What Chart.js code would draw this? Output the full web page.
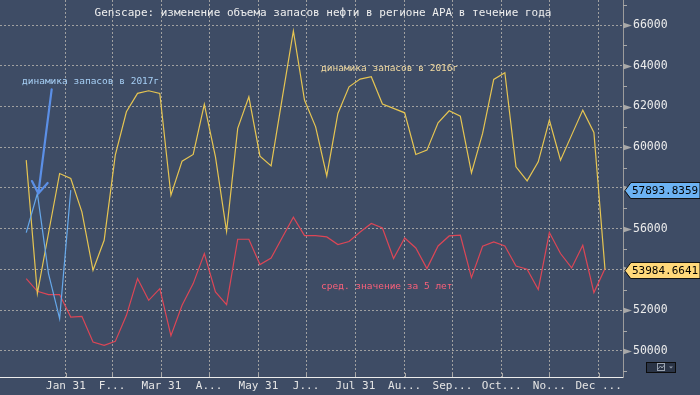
<!DOCTYPE html>
<html>
<head>
<meta charset="utf-8">
<script src="https://cdn.jsdelivr.net/npm/chart.js@4/dist/chart.umd.min.js"></script>
<style>
  html, body { margin: 0; padding: 0; background: #3e4c65; }
  canvas { display: block; }
</style>
</head>
<body>
<canvas id="myChart" width="700" height="395"></canvas>
<script>
"use strict";

// weekly points, day of year
const weekDays = [6, 13, 20, 27, 34, 41, 48, 55, 62, 69, 76, 83, 90, 97, 104, 111, 118, 125, 132, 139,
  146, 153, 160, 167, 174, 181, 188, 195, 202, 209, 216, 223, 230, 237, 244, 251, 258, 265, 272, 279,
  286, 293, 300, 307, 314, 321, 328, 335, 342, 349, 356, 363, 370];

const stocks2016 = [59366, 52816, 55779, 58712, 58467, 56826, 53960, 55435, 59612, 61740,
  62644, 62772, 62644, 57646, 59317, 59646, 62103, 59528, 55877, 60924,
  62477, 59563, 59086, 62413, 65705, 62315, 61002, 58595, 61661, 62968,
  63346, 63459, 62118, 61907, 61690, 59646, 59858, 61199, 61789, 61528,
  58742, 60678, 63332, 63656, 59037, 58349, 59283, 61332, 59366, 60595,
  61823, 60727, 53984.6641];

const avg5y = [53553, 52929, 52767, 52767, 51666, 51700, 50437, 50275, 50471, 51749,
  53553, 52487, 53061, 50753, 52241, 53307, 54782, 52897, 52274, 55484,
  55484, 54241, 54565, 55567, 56565, 55665, 55665, 55597, 55223, 55370,
  55843, 56255, 56039, 54536, 55548, 55057, 54044, 55155, 55646, 55680,
  53602, 55140, 55351, 55155, 54172, 54010, 53012, 55813, 54782, 54074,
  55189, 52865, 54044];

const stocks2017 = [55813, 57730, 53798, 51587, 57893.8359];

const monthEnds = [31, 60, 91, 121, 152, 182, 213, 244, 274, 305, 335, 366];
const monthLabels = ["Jan 31", "F...", "Mar 31", "A...", "May 31", "J...", "Jul 31", "Au...", "Sep...", "Oct...", "No...", "Dec ..."];
const yTicks = [50000, 52000, 54000, 56000, 58000, 60000, 62000, 64000, 66000];

const titleText = "Genscape: изменение объема запасов нефти в регионе АРА в течение года";
const label2017 = "динамика запасов в 2017г";
const label2016 = "динамика запасов в 2016г";
const labelAvg = "сред. значение за 5 лет";

const BG = "#3e4c65";
const YELLOW = "#e6c552";
const RED = "#dc4656";
const BLUE = "#66a8ea";
const GRID = "#a0a0a0";
const MONO = "'DejaVu Sans Mono', monospace";

function toPoints(values) {
  return values.map((v, i) => ({ x: weekDays[i], y: v }));
}

const decorPlugin = {
  id: "decor",
  beforeDraw(chart) {
    const ctx = chart.ctx;
    ctx.save();
    ctx.fillStyle = BG;
    ctx.fillRect(0, 0, chart.width, chart.height);
    ctx.restore();
  },
  afterDraw(chart) {
    const ctx = chart.ctx;
    const xs = chart.scales.x;
    const ys = chart.scales.y;
    const area = chart.chartArea;
    ctx.save();

    // y axis tick marks: arrows on labelled values, short ticks between
    for (let v = 49000; v <= 67000; v += 1000) {
      const y = Math.round(ys.getPixelForValue(v)) + 0.5;
      if (yTicks.includes(v)) {
        ctx.fillStyle = "#a8a8a8";
        ctx.beginPath();
        ctx.moveTo(area.right, y - 3);
        ctx.lineTo(area.right + 9, y);
        ctx.lineTo(area.right, y + 3);
        ctx.closePath();
        ctx.fill();
      } else {
        ctx.strokeStyle = "#a8a8a8";
        ctx.lineWidth = 1;
        ctx.beginPath();
        ctx.moveTo(area.right, y);
        ctx.lineTo(area.right + 4, y);
        ctx.stroke();
      }
    }

    // x axis tick marks
    ctx.strokeStyle = "#a8a8a8";
    monthEnds.forEach((d) => {
      const x = Math.round(xs.getPixelForValue(d)) + 0.5;
      ctx.beginPath();
      ctx.moveTo(x, area.bottom - 4);
      ctx.lineTo(x, area.bottom);
      ctx.stroke();
    });

    // title and labels
    ctx.textBaseline = "middle";
    ctx.fillStyle = "#efefef";
    ctx.font = "11px " + MONO;
    ctx.textAlign = "center";
    ctx.fillText(titleText, 323, 13);

    ctx.textAlign = "left";
    ctx.font = "9.5px " + MONO;
    ctx.fillStyle = "#a6cff5";
    ctx.fillText(label2017, 22, 82);
    ctx.fillStyle = "#f3dba0";
    ctx.fillText(label2016, 321, 69);
    ctx.fillStyle = "#f8607a";
    ctx.fillText(labelAvg, 321, 287);

    // arrow pointing at 2017 line
    const tail = { x: xs.getPixelForValue(22), y: ys.getPixelForValue(62840) };
    const tip = { x: xs.getPixelForValue(13.6), y: ys.getPixelForValue(57730) };
    const ang = Math.atan2(tip.y - tail.y, tip.x - tail.x);
    ctx.strokeStyle = "#5b8fe6";
    ctx.lineWidth = 2.2;
    ctx.lineCap = "round";
    ctx.beginPath();
    ctx.moveTo(tail.x, tail.y);
    ctx.lineTo(tip.x, tip.y);
    for (const s of [-1, 1]) {
      ctx.moveTo(tip.x, tip.y);
      ctx.lineTo(tip.x - 14 * Math.cos(ang + s * 0.6), tip.y - 14 * Math.sin(ang + s * 0.6));
    }
    ctx.stroke();

    // last value boxes on the axis
    const boxes = [
      { v: stocks2017[stocks2017.length - 1], fill: "#6cb2f2" },
      { v: stocks2016[stocks2016.length - 1], fill: "#ffd87a" },
    ];
    ctx.font = "11px " + MONO;
    ctx.lineWidth = 1;
    boxes.forEach((b) => {
      const y = Math.round(ys.getPixelForValue(b.v)) + 0.5;
      ctx.fillStyle = b.fill;
      ctx.strokeStyle = "#111";
      ctx.beginPath();
      ctx.moveTo(area.right + 2, y);
      ctx.lineTo(area.right + 8, y - 8);
      ctx.lineTo(700, y - 8);
      ctx.lineTo(700, y + 8);
      ctx.lineTo(area.right + 8, y + 8);
      ctx.closePath();
      ctx.fill();
      ctx.stroke();
      ctx.fillStyle = "#000";
      ctx.fillText(b.v.toFixed(4), area.right + 9, y + 1);
    });

    // little chart-type button
    ctx.fillStyle = "#2a3446";
    ctx.fillRect(646, 362, 30, 11);
    ctx.strokeStyle = "#0c0c0c";
    ctx.strokeRect(646.5, 362.5, 29, 10);
    ctx.strokeStyle = "#9aa3b0";
    ctx.strokeRect(657.5, 363.5, 7, 7);
    ctx.beginPath();
    ctx.moveTo(658.5, 368.5);
    ctx.lineTo(660.5, 366);
    ctx.lineTo(662, 368);
    ctx.lineTo(664, 365.5);
    ctx.stroke();
    ctx.fillStyle = "#8d96a4";
    ctx.beginPath();
    ctx.moveTo(669, 366.5);
    ctx.lineTo(673, 366.5);
    ctx.lineTo(671, 368.5);
    ctx.closePath();
    ctx.fill();

    ctx.restore();
  },
};

const chartConfig = {
  type: "line",
  data: {
    datasets: [
      {
        label: "2017",
        data: toPoints(stocks2017),
        borderColor: BLUE,
        borderWidth: 1.2,
        pointRadius: 0,
        tension: 0,
        fill: false,
      },
      {
        label: "2016",
        data: toPoints(stocks2016),
        borderColor: YELLOW,
        borderWidth: 1.2,
        pointRadius: 0,
        tension: 0,
        fill: false,
      },
      {
        label: "5y",
        data: toPoints(avg5y),
        borderColor: RED,
        borderWidth: 1.2,
        pointRadius: 0,
        tension: 0,
        fill: false,
      },
    ],
  },
  options: {
    responsive: false,
    animation: false,
    layout: { padding: 0 },
    plugins: {
      legend: { display: false },
      tooltip: { enabled: false },
    },
    scales: {
      x: {
        type: "linear",
        min: -10.5,
        max: 381.3,
        afterBuildTicks: (scale) => {
          scale.ticks = monthEnds.map((d) => ({ value: d }));
        },
        afterFit: (scale) => {
          scale.height = 18;
          scale.paddingLeft = 0;
          scale.paddingRight = 0;
        },
        ticks: {
          autoSkip: false,
          maxRotation: 0,
          padding: 3,
          color: "#e4e4e4",
          font: { family: MONO, size: 11 },
          callback: (v, i) => monthLabels[i],
        },
        grid: {
          color: GRID,
          drawTicks: false,
        },
        border: { display: true, color: "#ececec", width: 1, dash: [2, 2] },
      },
      y: {
        type: "linear",
        position: "right",
        min: 48722,
        max: 67228,
        afterBuildTicks: (scale) => {
          scale.ticks = yTicks.map((v) => ({ value: v }));
        },
        afterFit: (scale) => {
          scale.width = 77;
          scale.paddingTop = 0;
          scale.paddingBottom = 0;
        },
        ticks: {
          autoSkip: false,
          padding: 10,
          color: "#ececec",
          font: { family: MONO, size: 11.5 },
          callback: (v) => String(v),
        },
        grid: {
          color: GRID,
          drawTicks: false,
        },
        border: { display: true, color: "#9c9c9c", width: 1, dash: [2, 2] },
      },
    },
  },
  plugins: [decorPlugin],
};

const canvas = document.getElementById("myChart");
const myChart = new Chart(canvas.getContext("2d"), chartConfig);
</script>
</body>
</html>
